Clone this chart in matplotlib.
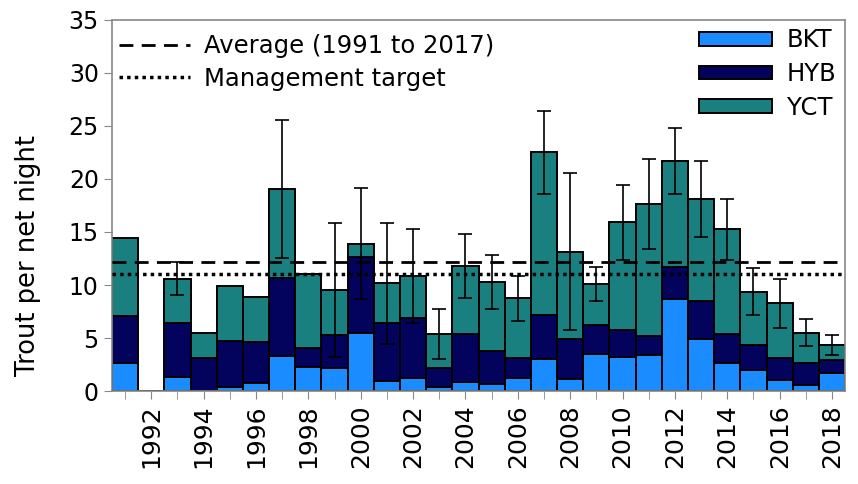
import numpy as np
import matplotlib.pyplot as plt

plt.rcParams['font.family'] = ['DejaVu Sans']

# catch per net night, stacked by species (BKT bottom, HYB middle, YCT top)
years = np.arange(1991, 2019)
bkt = [2.67, 0, 1.3, 0.0, 0.4, 0.78, 3.3, 2.23, 2.14, 5.44, 0.94, 1.26, 0.35, 0.82,
       0.66, 1.2, 2.99, 1.1, 3.5, 3.24, 3.4, 8.65, 4.9, 2.6, 1.98, 1.04, 0.57, 1.67]
hyb_top = [7.1, 0, 6.45, 3.08, 4.75, 4.65, 10.7, 4.1, 5.3, 12.6, 6.45, 6.9, 2.2, 5.35,
           3.77, 3.08, 7.17, 4.88, 6.2, 5.75, 5.2, 11.7, 8.5, 5.35, 4.34, 3.08, 2.6, 2.9]
total = [14.4, 0, 10.6, 5.44, 9.9, 8.9, 19.06, 11.04, 9.5, 13.9, 10.16, 10.85, 5.35, 11.8,
         10.3, 8.75, 22.5, 13.15, 10.1, 15.9, 17.6, 21.7, 18.1, 15.25, 9.37, 8.27, 5.5, 4.34]
err = [np.nan, np.nan, 1.55, np.nan, np.nan, np.nan, 6.5, np.nan, 6.3, 5.2, 5.7, 4.4, 2.35, 3.0,
       2.55, 2.1, 3.95, 7.4, 1.6, 3.55, 4.25, 3.1, 3.6, 2.9, 2.2, 2.3, 1.25, 0.95]
average = 12.2
target = 11.0

bkt = np.array(bkt)
hyb = np.array(hyb_top) - bkt
yct = np.array(total) - np.array(hyb_top)

fig = plt.figure(figsize=(8.58, 4.84), dpi=100)
ax = fig.add_axes([0.1305, 0.192, 0.8545, 0.767])

kw = dict(width=1.0, edgecolor='black', linewidth=1.4, zorder=2)
b1 = ax.bar(years, bkt, color='#1a8cff', label='BKT', **kw)
b2 = ax.bar(years, hyb, bottom=bkt, color='#03035e', label='HYB', **kw)
b3 = ax.bar(years, yct, bottom=hyb_top, color='#1a7f7f', label='YCT', **kw)

ax.errorbar(years, total, yerr=err, fmt='none', ecolor='black', elinewidth=1.2,
            capsize=5, capthick=1.2, zorder=4)

l1, = ax.plot([1990.5, 2018.5], [average, average], color='black', lw=2,
              ls=(0, (5, 3)), zorder=3, label='Average (1991 to 2017)')
l2, = ax.plot([1990.5, 2018.5], [target, target], color='black', lw=2.5,
              ls=(0, (1, 1.2)), zorder=3, label='Management target')

ax.set_xlim(1990.5, 2018.5)
ax.set_ylim(0, 35)
ax.set_yticks(np.arange(0, 36, 5))
ax.set_xticks(years, minor=True)
ax.set_xticks(np.arange(1992, 2019, 2))
ax.set_xticklabels([str(y) for y in range(1992, 2019, 2)], rotation=90, fontsize=18)
ax.tick_params(axis='y', labelsize=17, length=6, color='#888888')
ax.tick_params(axis='x', which='both', length=6, color='#888888', direction='out')
for s in ax.spines.values():
    s.set_color('#888888')
    s.set_linewidth(1.2)
ax.set_ylabel('Trout per net night', fontsize=18.5)
ax.yaxis.set_label_coords(-0.097, 0.366)

leg1 = ax.legend(handles=[l1, l2], loc='upper left', bbox_to_anchor=(0, 0.981),
                 frameon=False, fontsize=17.5, handlelength=2.9, borderaxespad=0.1,
                 borderpad=0.2, labelspacing=0.35, handletextpad=0.6)
ax.add_artist(leg1)
ax.legend(handles=[b1, b2, b3], loc='upper right', frameon=False, fontsize=17.5,
          handlelength=3.0, handleheight=0.5, borderaxespad=0.1, borderpad=0.25,
          labelspacing=0.4, handletextpad=0.6)

fig.savefig('out.png', dpi=100)
